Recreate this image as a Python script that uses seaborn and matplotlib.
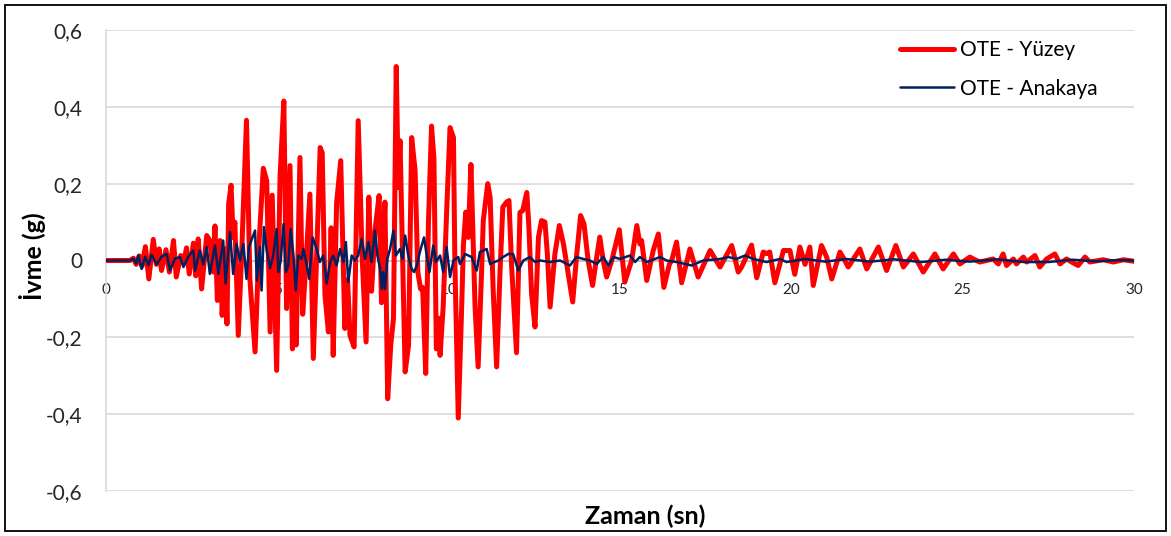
import numpy as np
import pandas as pd
import matplotlib
matplotlib.use("Agg")
import matplotlib.pyplot as plt
from matplotlib.lines import Line2D
from matplotlib.patches import Rectangle
import seaborn as sns

# Surface record (OTE - Yüzey): time [s], acceleration [g]
yuzey_t = [0.00, 0.70, 0.80, 0.88, 0.97, 1.05, 1.15, 1.25, 1.38, 1.47, 1.55, 1.62, 1.75, 1.85,
           1.97, 2.05, 2.18, 2.27, 2.35, 2.43, 2.55, 2.62, 2.69, 2.79, 2.94, 3.03, 3.13, 3.18,
           3.25, 3.33, 3.39, 3.47, 3.53, 3.58, 3.65, 3.71, 3.76, 3.86, 3.96, 4.10, 4.20, 4.35,
           4.47, 4.59, 4.69, 4.79, 4.85, 4.98, 5.08, 5.19, 5.27, 5.37, 5.44, 5.50, 5.55, 5.66,
           5.74, 5.84, 5.95, 6.05, 6.25, 6.31, 6.39, 6.49, 6.57, 6.63, 6.73, 6.85, 6.97, 7.05,
           7.12, 7.24, 7.36, 7.48, 7.59, 7.67, 7.75, 7.85, 7.97, 8.04, 8.14, 8.22, 8.31, 8.39,
           8.47, 8.53, 8.58, 8.73, 8.83, 8.92, 9.02, 9.10, 9.18, 9.24, 9.33, 9.41, 9.50, 9.57,
           9.64, 9.70, 9.75, 9.84, 9.94, 10.04, 10.14, 10.18, 10.28, 10.38, 10.43, 10.50, 10.57,
           10.65, 10.77, 10.86, 10.96, 11.01, 11.14, 11.21, 11.30, 11.40, 11.50, 11.58, 11.69,
           11.76, 11.84, 11.98, 12.08, 12.16, 12.28, 12.34, 12.42, 12.52, 12.62, 12.71, 12.81,
           12.88, 12.96, 13.10, 13.23, 13.35, 13.49, 13.62, 13.73, 13.85, 13.95, 14.07, 14.20,
           14.32, 14.41, 14.51, 14.61, 14.76, 14.88, 14.98, 15.14, 15.34, 15.49, 15.58, 15.63,
           15.78, 15.97, 16.12, 16.28, 16.44, 16.51, 16.65, 16.80, 17.04, 17.28, 17.63, 17.92,
           18.26, 18.45, 18.55, 18.84, 18.99, 19.18, 19.28, 19.37, 19.52, 19.77, 19.96, 20.10,
           20.25, 20.40, 20.54, 20.64, 20.88, 21.03, 21.18, 21.42, 21.56, 21.66, 22.00, 22.20,
           22.54, 22.78, 23.05, 23.27, 23.56, 23.85, 24.19, 24.43, 24.73, 24.92, 25.21, 25.31,
           25.50, 25.89, 26.04, 26.18, 26.28, 26.48, 26.57, 26.77, 26.87, 27.11, 27.25, 27.45,
           27.69, 27.84, 28.03, 28.18, 28.37, 28.57, 28.71, 29.10, 29.40, 29.69, 30.00]
yuzey_a = [0.000, 0.000, 0.006, -0.010, 0.012, -0.015, 0.036, -0.048, 0.055, -0.010, 0.030, -0.026,
           0.028, -0.030, 0.052, -0.043, 0.013, -0.005, 0.033, -0.035, 0.045, -0.040, 0.056, -0.074,
           0.065, 0.052, -0.030, 0.090, -0.104, 0.052, -0.143, 0.030, -0.165, 0.148, 0.196, 0.060,
           0.100, -0.195, 0.020, 0.365, -0.050, -0.238, 0.050, 0.240, 0.207, -0.186, 0.170, -0.286,
           0.220, 0.415, -0.125, 0.247, -0.230, -0.050, -0.220, 0.268, -0.140, 0.000, 0.173, -0.255,
           0.294, 0.280, -0.090, -0.186, 0.085, -0.247, 0.150, 0.260, -0.177, -0.050, -0.195, -0.225,
           0.364, 0.000, -0.212, 0.165, -0.080, 0.078, 0.169, -0.110, 0.152, -0.360, -0.220, -0.150,
           0.505, 0.190, 0.312, -0.290, -0.220, 0.320, 0.235, -0.030, -0.074, -0.070, -0.294, 0.100,
           0.350, 0.265, -0.230, -0.150, -0.247, -0.120, 0.125, 0.346, 0.320, 0.000, -0.410, -0.120,
           0.040, 0.126, 0.060, 0.250, -0.120, -0.277, -0.030, 0.104, 0.200, 0.165, -0.080, -0.277,
           -0.026, 0.139, 0.152, 0.156, -0.020, -0.240, 0.125, 0.130, 0.177, 0.090, -0.087, -0.173,
           0.060, 0.104, 0.100, 0.017, -0.121, 0.017, 0.091, 0.043, -0.035, -0.108, 0.009, 0.117,
           0.095, 0.000, -0.065, 0.009, 0.061, 0.000, -0.043, 0.000, 0.043, 0.080, -0.056, 0.000,
           0.091, 0.043, 0.052, -0.052, 0.026, 0.069, -0.070, -0.010, 0.000, 0.048, -0.058, 0.030,
           -0.043, 0.026, -0.017, 0.039, -0.030, -0.017, 0.040, -0.045, 0.022, 0.018, 0.022, -0.058,
           0.026, 0.026, -0.036, 0.035, -0.010, 0.035, -0.065, 0.039, 0.009, -0.048, 0.022, 0.000,
           -0.017, 0.030, -0.022, 0.035, -0.026, 0.039, -0.017, 0.017, -0.030, 0.017, -0.022, 0.017,
           -0.009, 0.009, 0.004, -0.004, 0.004, -0.009, 0.017, -0.013, 0.004, -0.009, 0.009, -0.004,
           0.013, -0.017, 0.004, 0.017, -0.009, 0.004, -0.004, -0.013, 0.009, -0.004, 0.002, -0.004,
           0.002, -0.002]

# Bedrock record (OTE - Anakaya): time [s], acceleration [g]
anakaya_t = [0.00, 0.70, 0.80, 0.88, 0.94, 1.04, 1.14, 1.24, 1.33, 1.48, 1.62, 1.77, 1.87, 2.01,
             2.16, 2.26, 2.40, 2.55, 2.60, 2.74, 2.84, 2.94, 3.03, 3.18, 3.28, 3.42, 3.49, 3.62,
             3.71, 3.81, 3.91, 4.01, 4.10, 4.17, 4.35, 4.40, 4.49, 4.54, 4.61, 4.69, 4.79, 4.88,
             4.98, 5.03, 5.10, 5.18, 5.25, 5.32, 5.39, 5.47, 5.54, 5.61, 5.71, 5.76, 5.86, 5.93,
             6.03, 6.15, 6.24, 6.34, 6.44, 6.54, 6.63, 6.73, 6.83, 6.93, 7.00, 7.07, 7.17, 7.26,
             7.36, 7.46, 7.56, 7.66, 7.75, 7.85, 7.92, 8.00, 8.05, 8.09, 8.14, 8.21, 8.29, 8.39,
             8.46, 8.58, 8.65, 8.73, 8.82, 8.92, 8.99, 9.07, 9.16, 9.28, 9.36, 9.44, 9.55, 9.63,
             9.75, 9.84, 9.94, 10.04, 10.14, 10.28, 10.33, 10.48, 10.67, 10.82, 10.91, 11.11,
             11.21, 11.45, 11.59, 11.74, 11.88, 12.03, 12.18, 12.37, 12.52, 12.67, 12.96, 13.25,
             13.54, 13.73, 13.93, 14.12, 14.32, 14.51, 14.66, 14.81, 15.00, 15.29, 15.44, 15.58,
             15.78, 16.17, 16.36, 16.65, 17.09, 17.43, 17.92, 18.16, 18.40, 18.65, 18.89, 19.28,
             19.67, 19.86, 20.40, 21.00, 21.60, 22.30, 23.00, 23.80, 24.50, 25.20, 26.00, 26.80,
             27.50, 28.20, 28.90, 29.50, 30.00]
anakaya_a = [0.000, 0.000, 0.005, -0.008, 0.013, -0.022, 0.010, -0.012, 0.015, -0.010, 0.010, 0.017,
             -0.026, 0.005, 0.009, -0.017, 0.010, 0.026, -0.026, 0.026, -0.010, 0.035, -0.035, 0.039,
             -0.035, 0.052, -0.060, 0.074, -0.035, 0.043, 0.000, 0.043, -0.048, 0.035, 0.078, -0.052,
             0.035, -0.078, 0.087, 0.026, -0.020, 0.013, 0.082, -0.030, 0.000, 0.095, -0.030, -0.013,
             0.082, 0.013, -0.078, 0.013, 0.004, 0.030, -0.013, -0.048, 0.060, 0.030, -0.004, 0.013,
             -0.060, -0.004, 0.013, -0.013, 0.030, -0.004, 0.048, -0.056, 0.013, 0.000, 0.013, 0.056,
             0.004, 0.048, -0.004, 0.078, 0.013, -0.022, -0.074, -0.030, -0.074, 0.004, 0.030, 0.078,
             0.013, 0.030, 0.004, 0.065, 0.013, -0.022, -0.030, -0.013, 0.022, 0.060, 0.013, -0.030,
             0.039, -0.004, 0.013, -0.030, 0.035, -0.043, 0.000, 0.009, -0.009, 0.017, 0.009, -0.026,
             0.022, 0.030, -0.009, 0.000, 0.009, 0.017, 0.017, -0.026, 0.000, 0.009, -0.004, 0.000,
             -0.004, 0.000, -0.013, 0.009, 0.004, 0.000, -0.009, 0.009, -0.013, 0.009, 0.004, 0.013,
             -0.004, 0.009, -0.004, 0.009, 0.000, -0.004, -0.013, 0.000, 0.004, 0.009, 0.004, 0.013,
             0.004, -0.004, 0.004, -0.004, 0.004, -0.003, 0.004, -0.003, 0.003, -0.004, 0.002, -0.003,
             0.003, -0.004, -0.004, 0.002, -0.002, 0.001, 0.000]

x_ticks = [0, 5, 10, 15, 20, 25, 30]
y_ticks = [-0.6, -0.4, -0.2, 0.0, 0.2, 0.4, 0.6]
y_tick_labels = ["-0,6", "-0,4", "-0,2", "0", "0,2", "0,4", "0,6"]

label_yuzey = "OTE - Yüzey"
label_anakaya = "OTE - Anakaya"
x_title = "Zaman (sn)"
y_title = "İvme (g)"

sns.set_theme(style="white")
plt.rcParams["font.family"] = ["Lato", "DejaVu Sans"]

red = "#FF0000"
navy = "#002060"
grid_color = "#D9D9D9"

df_y = pd.DataFrame({"t": yuzey_t, "a": yuzey_a})
df_a = pd.DataFrame({"t": anakaya_t, "a": anakaya_a})

W, H = 1171, 536
fig = plt.figure(figsize=(W / 100, H / 100), dpi=100)
ax = fig.add_axes([106 / W, 1 - 491 / H, (1134 - 106) / W, (491 - 30) / H])

sns.lineplot(data=df_y, x="t", y="a", ax=ax, color=red, linewidth=3.6, sort=False,
             estimator=None, zorder=3, solid_joinstyle="round", solid_capstyle="round")
sns.lineplot(data=df_a, x="t", y="a", ax=ax, color=navy, linewidth=1.8, sort=False,
             estimator=None, zorder=4, solid_joinstyle="round")

ax.set_xlim(0, 30)
ax.set_ylim(-0.6, 0.6)
ax.set_yticks(y_ticks)
ax.set_yticklabels(y_tick_labels, fontsize=15, color="#262626")
ax.set_xticks(x_ticks)
ax.set_xticklabels([str(v) for v in x_ticks], fontsize=15, color="#595959")
ax.tick_params(axis="both", length=0)
ax.tick_params(axis="y", pad=17)
ax.tick_params(axis="x", pad=16)

# horizontal gridlines, time axis crossing at zero
ax.yaxis.grid(True, color=grid_color, linewidth=1.2)
ax.xaxis.grid(False)
ax.set_axisbelow(True)
for s in ["top", "right"]:
    ax.spines[s].set_visible(False)
ax.spines["bottom"].set_position(("data", 0))
ax.spines["bottom"].set_color("#BFBFBF")
ax.spines["bottom"].set_linewidth(1.2)
ax.spines["left"].set_color(grid_color)
ax.spines["left"].set_linewidth(1.2)

ax.set_xlabel("")
ax.set_ylabel("")
fig.text(645 / W, 1 - 516 / H, x_title, ha="center", va="center",
         fontsize=18, fontweight="bold", color="black")
fig.text(33 / W, 1 - 256 / H, y_title, ha="center", va="center", rotation=90,
         fontsize=18, fontweight="bold", color="black")

handles = [Line2D([], [], color=red, linewidth=3.6),
           Line2D([], [], color=navy, linewidth=1.8)]
leg = ax.legend(handles, [label_yuzey, label_anakaya], loc="upper left",
                bbox_to_anchor=(900 / W, 1 - 40 / H), bbox_transform=fig.transFigure,
                frameon=False, fontsize=15, handlelength=2.6, handletextpad=0.3,
                labelspacing=0.9, borderpad=0.0, borderaxespad=0.0)
for txt in leg.get_texts():
    txt.set_color("black")

fig.patches.append(Rectangle((5 / W, 5 / H), 1161 / W, 526 / H,
                             transform=fig.transFigure, fill=False,
                             edgecolor="black", linewidth=1.3))

fig.savefig("out.png", dpi=100, facecolor="white")
